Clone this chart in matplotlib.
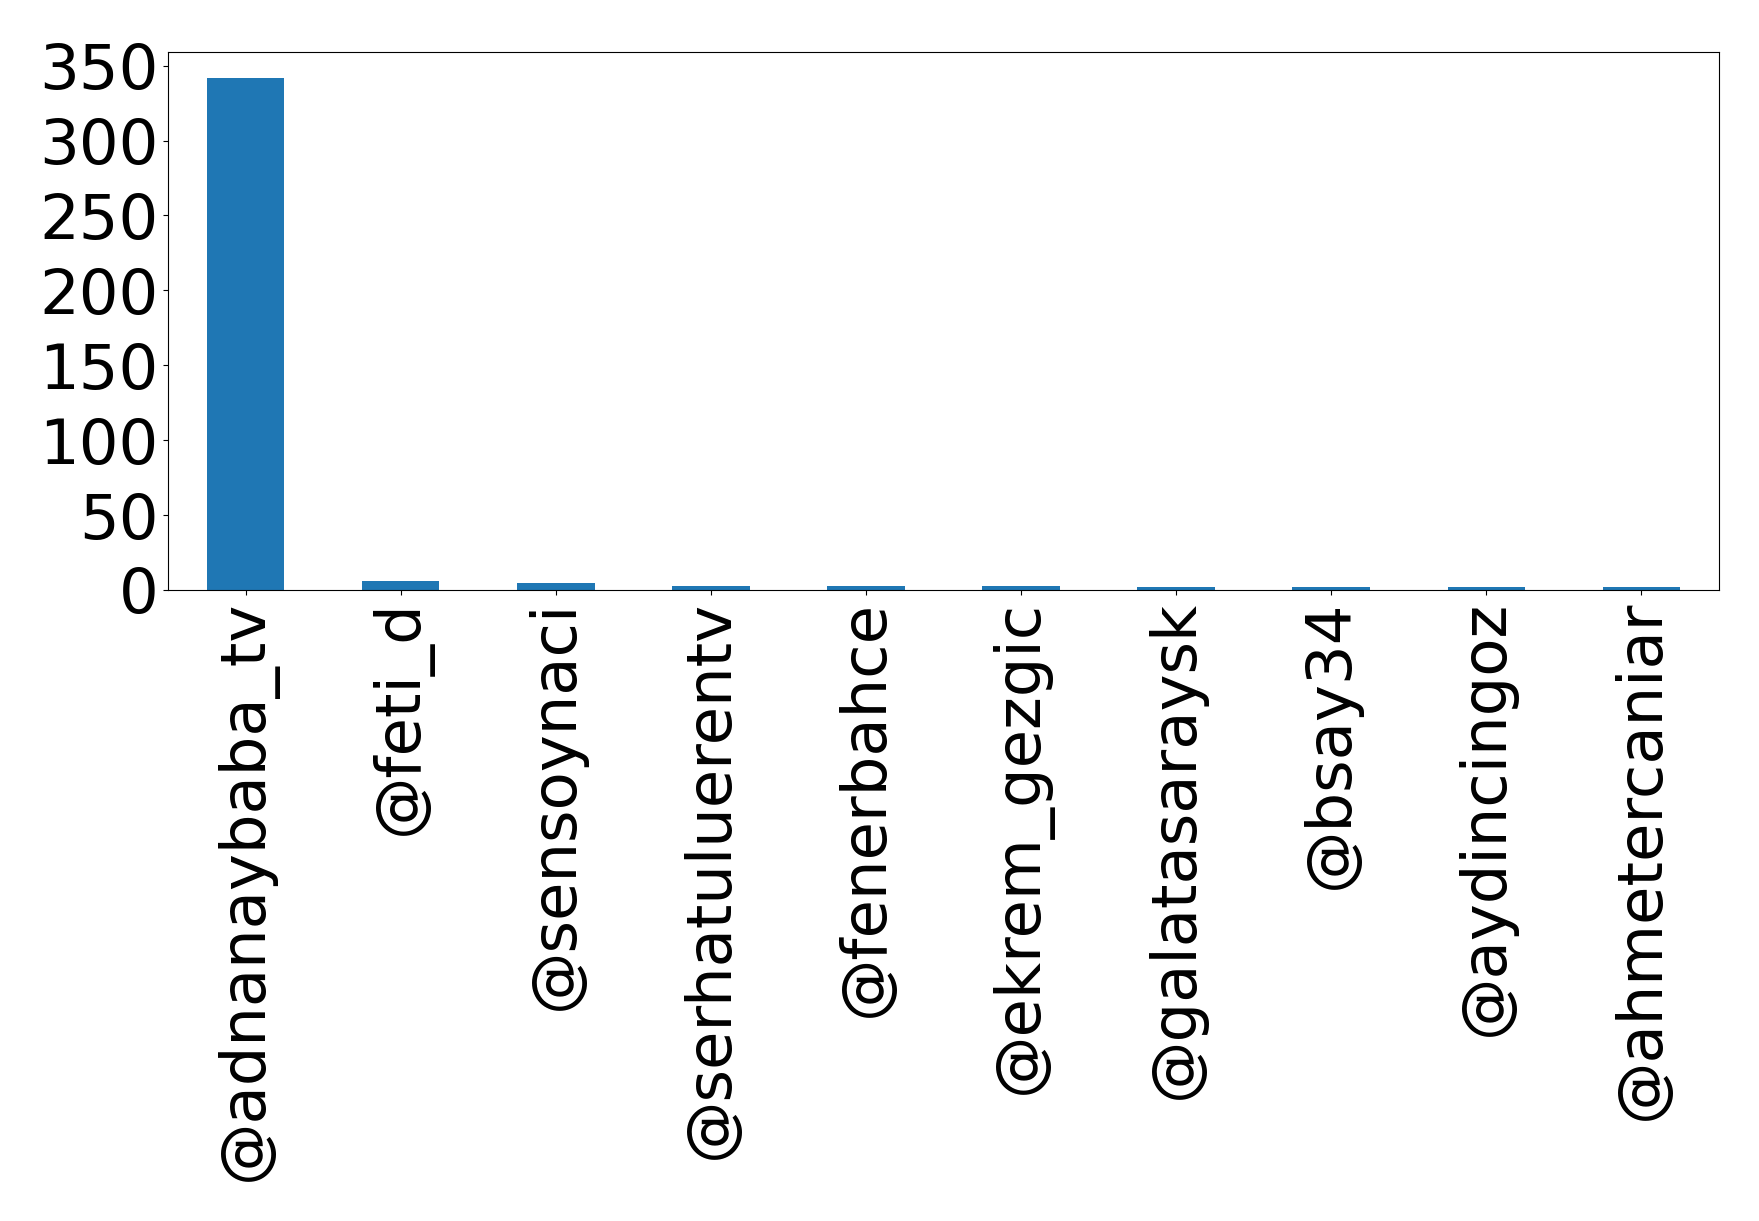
import numpy as np
import matplotlib
matplotlib.use("Agg")
from matplotlib import pyplot as plt

users = ['@adnanaybaba_tv', '@feti_d', '@sensoynaci', '@serhatuluerentv',
         '@fenerbahce', '@ekrem_gezgic', '@galatasaraysk', '@bsay34',
         '@aydincingoz', '@ahmetercaniar']
counts = [342, 6, 5, 3, 3, 3, 2, 2, 2, 2]

fig = plt.figure(figsize=(17.59, 12.21), dpi=100)
ax = fig.add_axes([168/1759, 1-590/1221, (1719-168)/1759, (590-52)/1221])
x = np.arange(len(users))
ax.bar(x, counts, width=0.5, color='#1f77b4')
ax.set_xlim(-0.5, len(users)-0.5)
ax.set_ylim(0, max(counts)*1.05)
ax.set_yticks(np.arange(0, 351, 50))
ax.set_xticks(x)
ax.set_xticklabels(users, rotation=90)
ax.tick_params(labelsize=45)
fig.savefig('out.png', dpi=100)
